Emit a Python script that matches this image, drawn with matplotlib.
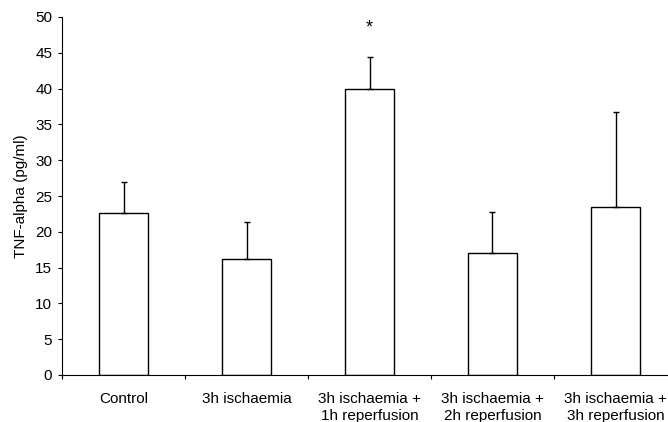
import numpy as np
import matplotlib
matplotlib.use("Agg")
import matplotlib.pyplot as plt

categories = ["Control", "3h ischaemia", "3h ischaemia +\n1h reperfusion",
              "3h ischaemia +\n2h reperfusion", "3h ischaemia +\n3h reperfusion"]
means = [22.6, 16.2, 40.0, 17.0, 23.4]
upper_err = [4.3, 5.2, 4.4, 5.7, 13.4]
y_ticks = [0, 5, 10, 15, 20, 25, 30, 35, 40, 45, 50]

plt.rcParams['font.family'] = ['Liberation Sans', 'DejaVu Sans']

fig = plt.figure(figsize=(6.68, 4.22), dpi=100)
# axes runs slightly past the right edge, as in the scanned figure
ax = fig.add_axes([62 / 668, 47 / 422, 615 / 668, 358 / 422])

x = np.arange(len(categories))
ax.bar(x, means, width=0.4, color='white', edgecolor='black', linewidth=1.0)
ax.errorbar(x, means, yerr=[np.zeros(len(means)), upper_err], fmt='none',
            ecolor='black', elinewidth=1.0, capsize=2.5, capthick=1.0)

ax.text(2, 48.4, "*", ha='center', va='center', fontsize=13)

ax.set_xlim(-0.5, len(categories) - 0.5)
ax.set_ylim(0, 50)
ax.set_yticks(y_ticks)
ax.tick_params(axis='y', labelsize=11, length=3, width=0.8, pad=4)

ax.set_xticks(x)
ax.set_xticklabels(categories, fontsize=11, linespacing=1.3)
ax.set_xticks(np.arange(len(categories) + 1) - 0.5, minor=True)
ax.tick_params(axis='x', which='major', length=0, pad=12)
ax.tick_params(axis='x', which='minor', length=3, width=0.8)

ax.set_ylabel("TNF-alpha (pg/ml)", fontsize=11, labelpad=5)

for side in ['top', 'right']:
    ax.spines[side].set_visible(False)
ax.spines['left'].set_linewidth(0.8)
ax.spines['bottom'].set_linewidth(0.8)

fig.savefig("out.png", dpi=100)
